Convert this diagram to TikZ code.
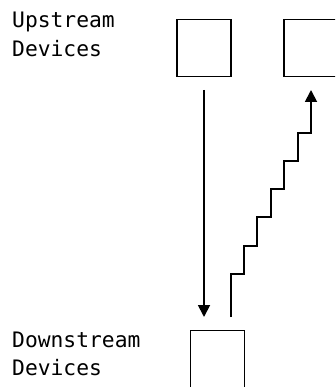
\documentclass[tikz,border=0pt]{standalone}
\usepackage{fontspec}
\setmonofont{DejaVu Sans Mono}
\usetikzlibrary{arrows.meta}
\begin{document}
\begin{tikzpicture}[x=1pt,y=-1pt,
  dev/.style={draw,line width=1.6pt,minimum width=54pt,minimum height=57pt,inner sep=0pt,outer sep=0pt},
  lbl/.style={anchor=base west,inner sep=0pt,font=\ttfamily\fontsize{21.3}{28}\selectfont},
  flow/.style={line width=1.8pt,-{Triangle[length=12pt,width=12pt]}}]
\useasboundingbox (0,0) rectangle (335,387);
\clip (0,0) rectangle (335,387);
\node[lbl] (up1) at (12,28) {Upstream};
\node[lbl] (up2) at (12,57) {Devices};
\node[lbl] (dn1) at (12,347) {Downstream};
\node[lbl] (dn2) at (12,375) {Devices};
\node[dev] (b1) at (204,48) {};
\node[dev] (b2) at (311,48) {};
\node[dev] (b3) at (217.5,359) {};
\coordinate (d0) at (204,90);
\coordinate (d1) at (204,317);
\draw[flow] (d0) -- (d1);
\coordinate (s0) at (231,317);
\coordinate (s1) at (311,90);
\draw[flow,line join=miter] (s0) -- (231,274) -- (244,274) -- (244,246) -- (257,246) -- (257,217)
  -- (271,217) -- (271,189) -- (284,189) -- (284,161) -- (298,161) -- (298,133)
  -- (311,133) -- (s1);
\end{tikzpicture}
\end{document}
